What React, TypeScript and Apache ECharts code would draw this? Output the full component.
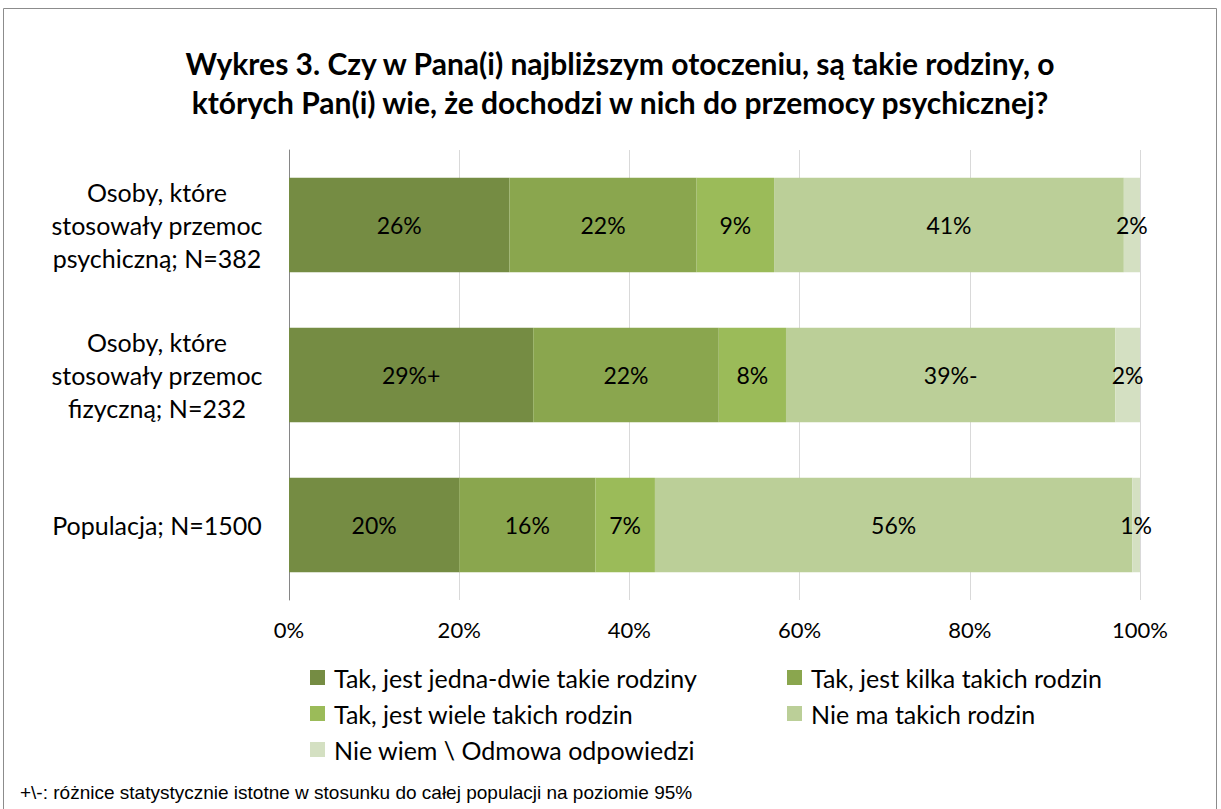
import React, { useEffect, useRef } from "react";
import * as echarts from "echarts";

const categories = [
  "Osoby, które\nstosowały przemoc\npsychiczną; N=382",
  "Osoby, które\nstosowały przemoc\nfizyczną; N=232",
  "Populacja; N=1500",
];
const seriesNames = [
  "Tak, jest jedna-dwie takie rodziny",
  "Tak, jest kilka takich rodzin",
  "Tak, jest wiele takich rodzin",
  "Nie ma takich rodzin",
  "Nie wiem \\ Odmowa odpowiedzi",
];
// values per series, per category (top to bottom)
const jednaDwie = [25.9, 28.7, 20.0];
const kilka = [22.0, 21.8, 16.0];
const wiele = [9.1, 7.9, 7.0];
const nieMa = [41.1, 38.7, 56.1];
const nieWiem = [1.9, 2.9, 0.9];
const labelsJednaDwie = ["26%", "29%+", "20%"];
const labelsKilka = ["22%", "22%", "16%"];
const labelsWiele = ["9%", "8%", "7%"];
const labelsNieMa = ["41%", "39%-", "56%"];
const labelsNieWiem = ["2%", "2%", "1%"];
const xTicks = [0, 20, 40, 60, 80, 100];

const colors = ["#758C43", "#8AA64E", "#9BBB59", "#BBCF98", "#D4E0C2"];
const FONT = "Lato, 'Open Sans', sans-serif";

export default function App() {
  const ref = useRef<HTMLDivElement>(null);
  useEffect(() => {
    if (!ref.current) return;
    const chart = echarts.init(ref.current, undefined, { renderer: "svg" });
    const values = [jednaDwie, kilka, wiele, nieMa, nieWiem];
    const labels = [labelsJednaDwie, labelsKilka, labelsWiele, labelsNieMa, labelsNieWiem];
    const legendPos = [
      { left: 310, top: 665 },
      { left: 787, top: 665 },
      { left: 310, top: 701 },
      { left: 787, top: 701 },
      { left: 310, top: 737 },
    ];
    chart.setOption({
      animation: false,
      backgroundColor: "#ffffff",
      title: {
        text: "Wykres 3. Czy w Pana(i) najbliższym otoczeniu, są takie rodziny, o\nktórych Pan(i) wie, że dochodzi w nich do przemocy psychicznej?",
        left: 615,
        top: 38,
        textAlign: "center",
        textStyle: {
          fontFamily: FONT,
          fontWeight: "bold",
          fontSize: 30,
          lineHeight: 39,
          color: "#000",
        },
      },
      grid: { left: 289, right: 81, top: 150, bottom: 209, containLabel: false },
      xAxis: {
        type: "value",
        min: 0,
        max: 100,
        interval: 20,
        axisLabel: {
          formatter: (v: number) => (xTicks.includes(v) ? v + "%" : ""),
          fontFamily: FONT,
          fontSize: 22,
          color: "#000",
          margin: 18,
        },
        axisLine: { show: false },
        axisTick: { show: false },
        splitLine: { show: true, lineStyle: { color: "#D9D9D9", width: 1 } },
      },
      yAxis: {
        type: "category",
        data: categories,
        inverse: true,
        axisLabel: {
          fontFamily: FONT,
          fontSize: 25,
          lineHeight: 33,
          color: "#000",
          align: "center",
          margin: 132,
        },
        axisLine: { show: true, lineStyle: { color: "#868686", width: 1 } },
        axisTick: { show: false },
      },
      legend: legendPos.map((p, i) => ({
        data: [seriesNames[i]],
        left: p.left,
        top: p.top,
        itemWidth: 15,
        itemHeight: 15,
        icon: "rect",
        textStyle: { fontFamily: FONT, fontSize: 25, color: "#000", padding: [0, 0, 0, 4] },
        padding: 0,
      })),
      graphic: [
        {
          type: "rect",
          shape: { x: 3.5, y: 8.5, width: 1213, height: 820 },
          style: { fill: "none", stroke: "#8C8C8C", lineWidth: 1 },
          silent: true,
        },
        {
          type: "text",
          left: 20,
          top: 783,
          style: {
            text: "+\\-: różnice statystycznie istotne w stosunku do całej populacji na poziomie 95%",
            fontFamily: "'Liberation Sans', Arial, sans-serif",
            fontSize: 19,
            fill: "#000",
          },
        },
      ],
      series: seriesNames.map((name, i) => ({
        name,
        type: "bar",
        stack: "total",
        barWidth: "63%",
        itemStyle: { color: colors[i] },
        label: {
          show: true,
          position: "inside",
          formatter: (p: any) => labels[i][p.dataIndex],
          fontFamily: FONT,
          fontSize: 23,
          color: "#000",
        },
        data: values[i],
      })),
    });
    return () => chart.dispose();
  }, []);
  return (
    <div
      ref={ref}
      style={{ position: "fixed", left: 0, top: 0, width: 1221, height: 809 }}
    />
  );
}
